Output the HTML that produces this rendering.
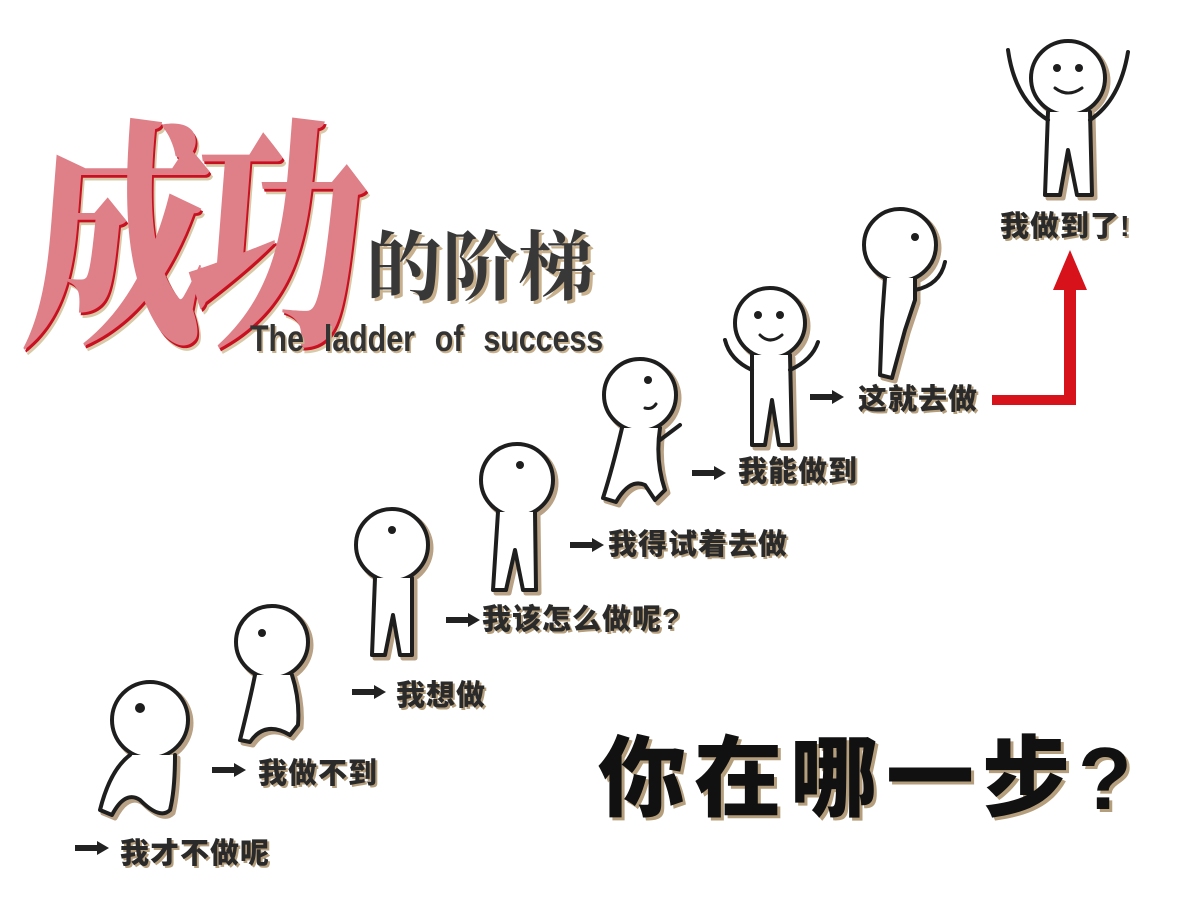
<!DOCTYPE html>
<html><head><meta charset="utf-8">
<style>
body{margin:0;width:1200px;height:900px;background:#fff;position:relative;overflow:hidden;font-family:"Liberation Sans","Noto Sans CJK SC",sans-serif}
.t{position:absolute;white-space:nowrap;line-height:1}
.lab{font-weight:900;font-size:29px;color:#2a2a2a;text-shadow:2px 2px 0 #b59e7c;letter-spacing:1px}
</style></head><body>
<svg width="1200" height="900" style="position:absolute;left:0;top:0">
<defs>
<g id="arrow"><path d="M0,4 L22,4 L22,0 L34,7 L22,14 L22,10 L0,10Z" fill="#222"/></g>
</defs>
<g fill="#fff" stroke-linejoin="round" stroke-linecap="round">
<g stroke="#b8a184" stroke-width="5" transform="translate(3,3)">
 <circle cx="150" cy="720" r="38"/><path d="M130,755 Q110,770 100,810 L112,815 Q125,790 140,800 Q160,820 170,810 Q175,790 175,755"/>
 <circle cx="272" cy="642" r="36"/><path d="M255,675 Q250,700 240,740 L250,742 Q265,720 290,735 L298,725 Q300,700 292,675"/>
 <circle cx="392" cy="545" r="36"/><path d="M375,578 L372,655 L385,655 L393,615 L400,655 L412,655 L412,578"/>
 <circle cx="517" cy="480" r="36"/><path d="M498,512 L493,590 L506,590 L515,550 L523,590 L536,590 L535,512"/>
 <circle cx="640" cy="395" r="36"/><path d="M622,428 Q612,470 603,498 L616,502 Q630,478 645,485 L655,500 L665,490 Q655,460 660,428"/>
 <circle cx="770" cy="323" r="35"/><path d="M752,355 L752,445 L765,445 L772,400 L779,445 L792,445 L790,355"/>
 <circle cx="900" cy="245" r="36"/><path d="M885,278 L882,320 L880,375 L892,378 L905,330 L915,300 L915,278"/>
 <circle cx="1068" cy="78" r="37"/><path d="M1048,112 L1045,195 L1060,195 L1068,150 L1077,195 L1092,195 L1090,112"/>
</g>
<g stroke="#1e1e1e" stroke-width="4">
 <circle cx="150" cy="720" r="38"/><path d="M130,755 Q110,770 100,810 L112,815 Q125,790 140,800 Q160,820 170,810 Q175,790 175,755"/>
 <circle cx="272" cy="642" r="36"/><path d="M255,675 Q250,700 240,740 L250,742 Q265,720 290,735 L298,725 Q300,700 292,675"/>
 <circle cx="392" cy="545" r="36"/><path d="M375,578 L372,655 L385,655 L393,615 L400,655 L412,655 L412,578"/>
 <circle cx="517" cy="480" r="36"/><path d="M498,512 L493,590 L506,590 L515,550 L523,590 L536,590 L535,512"/>
 <circle cx="640" cy="395" r="36"/><path d="M622,428 Q612,470 603,498 L616,502 Q630,478 645,485 L655,500 L665,490 Q655,460 660,428"/>
 <path d="M660,440 L680,425" fill="none"/>
 <circle cx="770" cy="323" r="35"/><path d="M752,355 L752,445 L765,445 L772,400 L779,445 L792,445 L790,355"/>
 <path d="M752,370 Q730,360 725,340 M790,370 Q812,360 818,342" fill="none"/>
 <circle cx="900" cy="245" r="36"/><path d="M885,278 L882,320 L880,375 L892,378 L905,330 L915,300 L915,278"/>
 <path d="M915,290 Q940,285 945,262" fill="none"/>
 <circle cx="1068" cy="78" r="37"/><path d="M1048,112 L1045,195 L1060,195 L1068,150 L1077,195 L1092,195 L1090,112"/>
 <path d="M1048,120 Q1015,100 1008,50 M1090,120 Q1120,100 1128,52" fill="none"/>
</g>
<g fill="#1e1e1e" stroke="none">
 <circle cx="140" cy="708" r="5"/><circle cx="262" cy="633" r="4"/><circle cx="392" cy="530" r="4"/>
 <circle cx="520" cy="465" r="4"/><circle cx="648" cy="380" r="4"/>
 <circle cx="758" cy="315" r="4"/><circle cx="780" cy="315" r="4"/><circle cx="915" cy="237" r="4"/>
 <circle cx="1057" cy="68" r="4"/><circle cx="1079" cy="68" r="4"/>
</g>
<g fill="none" stroke="#1e1e1e" stroke-width="3">
 <path d="M760,335 Q770,345 782,335"/><path d="M1055,88 Q1068,98 1082,88"/><path d="M645,408 Q652,410 656,404"/>
</g>
</g>
<use href="#arrow" x="75" y="841"/><use href="#arrow" x="212" y="763"/><use href="#arrow" x="352" y="685"/>
<use href="#arrow" x="446" y="613"/><use href="#arrow" x="570" y="538"/><use href="#arrow" x="692" y="466"/>
<use href="#arrow" x="810" y="390"/>
<path d="M992,395 L1064,395 L1064,290 L1053,290 L1070,250 L1087,290 L1076,290 L1076,405 L992,405Z" fill="#d7121b"/>
</svg>
<div class="t" style="left:40px;top:100px;font-size:180px;font-family:'Noto Serif CJK SC','Noto Sans CJK SC',serif;font-weight:900;color:#df7f88;text-shadow:2px 2px 0 #c81020,4px 4px 0 #d8c9a8;letter-spacing:-22px;transform:scaleY(1.35) skewX(-6deg);transform-origin:left top">成功</div>
<div class="t" style="left:366px;top:224px;font-size:76px;font-family:'Noto Serif CJK SC',serif;font-weight:700;color:#383838;text-shadow:3px 3px 0 #c7b08b">的阶梯</div>
<div class="t" style="left:250px;top:320px;font-size:37px;font-weight:700;color:#333;text-shadow:2px 2px 0 #c7b08b;word-spacing:14px;transform:scaleX(0.82);transform-origin:left">The ladder of success</div>
<div class="t lab" style="left:120px;top:840px">我才不做呢</div>
<div class="t lab" style="left:258px;top:760px">我做不到</div>
<div class="t lab" style="left:396px;top:682px">我想做</div>
<div class="t lab" style="left:482px;top:606px">我该怎么做呢?</div>
<div class="t lab" style="left:608px;top:531px">我得试着去做</div>
<div class="t lab" style="left:738px;top:458px">我能做到</div>
<div class="t lab" style="left:858px;top:386px">这就去做</div>
<div class="t lab" style="left:1000px;top:213px">我做到了!</div>
<div class="t" style="left:598px;top:735px;font-size:88px;font-weight:900;color:#111;text-shadow:3px 3px 0 #b59e7c;letter-spacing:8px">你在哪一步?</div>
</body></html>
